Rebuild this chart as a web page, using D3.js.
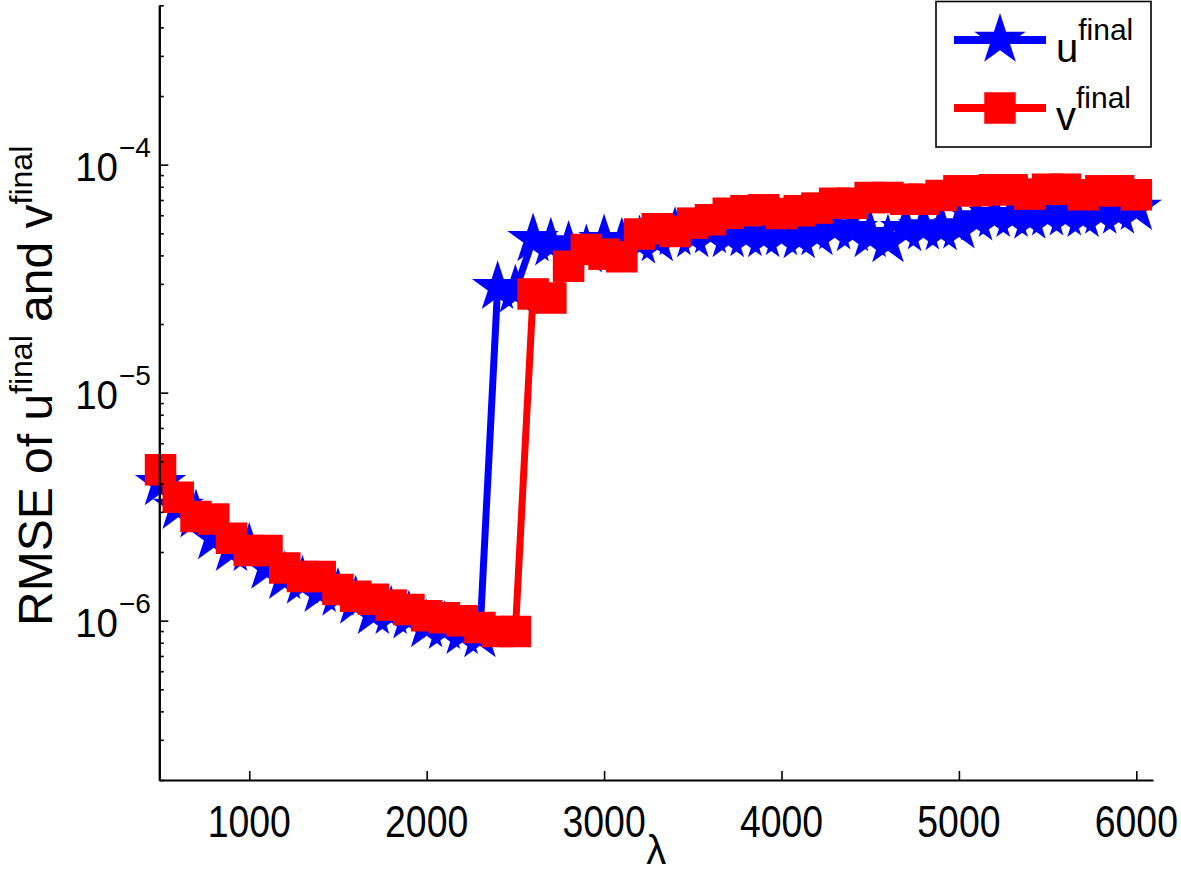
<!DOCTYPE html>
<html><head><meta charset="utf-8">
<script src="https://cdn.jsdelivr.net/npm/d3@7/dist/d3.min.js"></script>
<style>
body{margin:0;background:#fff}
svg text{font-family:"Liberation Sans",Arial,Helvetica,sans-serif;fill:#000}
</style>
</head><body>
<svg id="chart" width="1181" height="874"></svg>
<script>
// ---- data ----
const lambdas = [500,600,700,800,900,1000,1100,1200,1300,1400,1500,1600,1700,1800,1900,2000,
  2100,2200,2300,2400,2500,2600,2700,2800,2900,3000,3100,3200,3300,3400,3500,3600,3700,3800,
  3900,4000,4100,4200,4300,4400,4500,4600,4700,4800,4900,5000,5100,5200,5300,5400,5500,5600,
  5700,5800,5900,6000];
const uFinal = [4.0e-6,3.15e-6,2.89e-6,2.32e-6,2.06e-6,2.06e-6,1.72e-6,1.55e-6,1.48e-6,1.36e-6,
  1.31e-6,1.21e-6,1.09e-6,1.09e-6,1.04e-6,0.953e-6,0.937e-6,0.89e-6,0.861e-6,2.9e-5,2.8e-5,
  4.7e-5,4.5e-5,4.35e-5,4.2e-5,4.65e-5,4.5e-5,4.6e-5,4.7e-5,5.0e-5,4.9e-5,5.1e-5,4.9e-5,4.95e-5,
  4.9e-5,5.0e-5,4.85e-5,5.0e-5,5.3e-5,5.2e-5,4.9e-5,4.65e-5,5.2e-5,5.3e-5,5.25e-5,5.35e-5,
  5.8e-5,6.0e-5,6.0e-5,5.9e-5,6.1e-5,6.1e-5,6.0e-5,6.2e-5,6.2e-5,6.45e-5];
const vFinal = [4.59e-6,3.48e-6,2.86e-6,2.79e-6,2.30e-6,2.03e-6,2.03e-6,1.70e-6,1.56e-6,1.56e-6,
  1.37e-6,1.28e-6,1.24e-6,1.17e-6,1.12e-6,1.05e-6,1.03e-6,1.00e-6,0.934e-6,0.897e-6,0.897e-6,
  2.71e-5,2.6e-5,3.58e-5,4.24e-5,4.05e-5,3.95e-5,4.96e-5,5.24e-5,5.09e-5,5.54e-5,5.73e-5,6.12e-5,
  6.28e-5,6.34e-5,6.1e-5,6.28e-5,6.45e-5,6.78e-5,6.78e-5,7.18e-5,7.18e-5,7.06e-5,7.06e-5,7.33e-5,
  7.68e-5,7.68e-5,7.76e-5,7.76e-5,7.43e-5,7.81e-5,7.81e-5,7.38e-5,7.68e-5,7.68e-5,7.38e-5];
const xTicks = [1000,2000,3000,4000,5000,6000];
const yMajorTicks = [1e-6,1e-5,1e-4];
const yTickExponents = ["\u22126","\u22125","\u22124"];
const seriesLabels = ["u","v"];
const seriesSup = "final";
const seriesColors = ["#0000ff","#ff0000"];
const xLabel = "\u03bb";

// ---- layout ----
const svg = d3.select("#chart");
const plot = {left:159.3, right:1153, top:5.3, bottom:780};
const x = d3.scaleLinear().domain([493,6094]).range([plot.left, plot.right]);
const y = d3.scaleLog().domain([2e-7,5e-4]).range([plot.bottom, plot.top]);

const starSym = d3.symbol(d3.symbolStar, 820);
const squareSym = d3.symbol(d3.symbolSquare, 31.5*31.5);
const symbols = [starSym, squareSym];

// ---- series ----
[uFinal, vFinal].forEach((vals, i) => {
  const pts = lambdas.map((l, j) => [l, vals[j]]);
  const g = svg.append("g");
  g.append("path")
    .attr("d", d3.line().x(d => x(d[0])).y(d => y(d[1]))(pts))
    .attr("fill","none").attr("stroke", seriesColors[i])
    .attr("stroke-width", 7).attr("stroke-linejoin","round");
  g.selectAll("path.m").data(pts).join("path").attr("class","m")
    .attr("d", symbols[i]())
    .attr("transform", d => `translate(${x(d[0])},${y(d[1])})`)
    .attr("fill", seriesColors[i]);
});

// ---- axes ----
const allTicks = y.ticks();
const minorTicks = allTicks.filter(t => !yMajorTicks.some(m => Math.abs(t/m - 1) < 1e-6));
const axStyle = g => { g.selectAll("line").attr("stroke","#000").attr("stroke-width",1.6);
  g.select(".domain").attr("stroke","#000").attr("stroke-width",2); };

svg.append("g").attr("transform",`translate(${plot.left},0)`)
  .call(d3.axisLeft(y).tickValues(minorTicks).tickSize(-4.5).tickSizeOuter(0).tickFormat(""))
  .call(axStyle);
svg.append("g").attr("transform",`translate(${plot.left},0)`)
  .call(d3.axisLeft(y).tickValues(yMajorTicks).tickSize(-9).tickSizeOuter(0).tickFormat(""))
  .call(axStyle);
svg.append("g").attr("transform",`translate(0,${plot.bottom})`)
  .call(d3.axisBottom(x).tickValues(xTicks).tickSize(-9).tickSizeOuter(0).tickFormat(""))
  .call(axStyle);

// x tick labels (condensed like the original rendering)
svg.append("g").selectAll("text").data(xTicks).join("text")
  .attr("transform", d => `translate(${x(d)},${plot.bottom + 57}) scale(0.85,1)`)
  .attr("text-anchor","middle").attr("font-size", 44).text(d => d);

// y tick labels with superscripts
const yl = svg.append("g");
yMajorTicks.forEach((t, i) => {
  yl.append("text").attr("transform", `translate(118,${y(t) + 16}) scale(0.94,1)`)
    .attr("text-anchor","end").attr("font-size", 41).text("10");
  yl.append("text").attr("x", 119).attr("y", y(t) - 8)
    .attr("text-anchor","start").attr("font-size", 28).text(yTickExponents[i]);
});

// x label
svg.append("text").attr("x", (plot.left+plot.right)/2).attr("y", 864)
  .attr("text-anchor","middle").attr("font-size", 40).text(xLabel);

// y label (rotated)
const ylab = svg.append("text")
  .attr("transform","translate(52,626) rotate(-90)")
  .attr("font-size", 48);
ylab.append("tspan").text("RMSE of " + seriesLabels[0]);
ylab.append("tspan").attr("dy",-20).attr("font-size",32).text(seriesSup);
ylab.append("tspan").attr("dy",20).text(" and " + seriesLabels[1]);
ylab.append("tspan").attr("dy",-20).attr("font-size",32).text(seriesSup);

// ---- legend ----
const lg = svg.append("g");
lg.append("rect").attr("x",936).attr("y",1.5).attr("width",215).attr("height",145.5)
  .attr("fill","#fff").attr("stroke","#000").attr("stroke-width",1.6);
[40,108].forEach((ly, i) => {
  lg.append("line").attr("x1",954).attr("x2",1046).attr("y1",ly).attr("y2",ly)
    .attr("stroke",seriesColors[i]).attr("stroke-width",8);
  lg.append("path").attr("d", symbols[i]()).attr("transform",`translate(1000,${ly})`)
    .attr("fill",seriesColors[i]);
  const t = lg.append("text").attr("x",1056).attr("y",ly+22).attr("font-size",40);
  t.append("tspan").text(seriesLabels[i]);
  t.append("tspan").attr("dy",-22).attr("font-size",30).text(seriesSup);
});
</script>
</body></html>
